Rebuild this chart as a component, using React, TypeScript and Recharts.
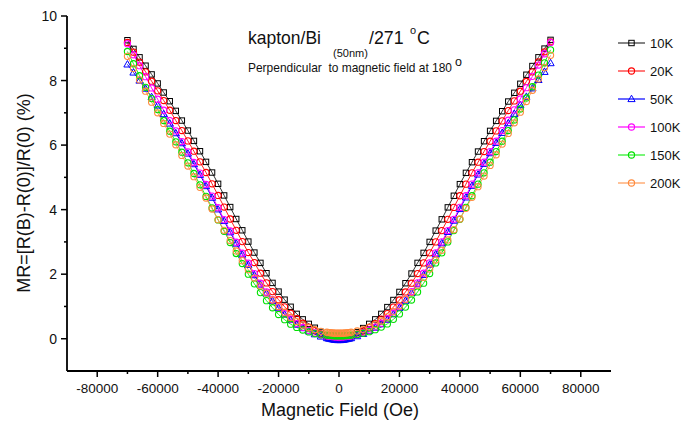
import { LineChart, Line, XAxis, YAxis } from "recharts";

// Magnetic field (Oe): 2000 Oe steps, with 500 Oe steps around zero
const FIELD = [
  -70000, -68000, -66000, -64000, -62000, -60000, -58000, -56000, -54000, -52000, -50000,
  -48000, -46000, -44000, -42000, -40000, -38000, -36000, -34000, -32000, -30000, -28000,
  -26000, -24000, -22000, -20000, -18000, -16000, -14000, -12000, -10000, -8000, -6000,
  -4000, -3500, -3000, -2500, -2000, -1500, -1000, -500, 0, 500, 1000, 1500, 2000, 2500, 3000, 3500, 4000,
  6000, 8000, 10000, 12000, 14000, 16000, 18000, 20000, 22000, 24000, 26000, 28000, 30000,
  32000, 34000, 36000, 38000, 40000, 42000, 44000, 46000, 48000, 50000, 52000, 54000, 56000,
  58000, 60000, 62000, 64000, 66000, 68000, 70000,
];

// MR (%) per temperature, same order as FIELD
const MR_10K = [
  9.25, 8.98, 8.72, 8.46, 8.19, 7.91, 7.63, 7.36, 7.06, 6.76, 6.45, 6.13, 5.81, 5.48, 5.15, 4.8,
  4.44, 4.08, 3.71, 3.36, 3.01, 2.67, 2.35, 2.03, 1.73, 1.46, 1.21, 0.99, 0.77, 0.6, 0.46, 0.34, 0.21,
  0.1, 0.08, 0.06, 0.04, 0.03, 0.02, 0.015, 0.01, 0.01, 0.01, 0.015, 0.02, 0.03, 0.04, 0.06, 0.08, 0.1,
  0.2, 0.33, 0.46, 0.6, 0.77, 0.98, 1.2, 1.45, 1.72, 2.02, 2.35, 2.66, 3.0, 3.35, 3.7, 4.07, 4.43,
  4.79, 5.14, 5.47, 5.8, 6.12, 6.44, 6.75, 7.05, 7.35, 7.62, 7.9, 8.18, 8.45, 8.72, 8.99, 9.26,
];
const MR_20K = [
  9.18, 8.88, 8.57, 8.27, 7.98, 7.68, 7.38, 7.08, 6.76, 6.45, 6.13, 5.81, 5.48, 5.15, 4.8, 4.44,
  4.08, 3.71, 3.36, 3.01, 2.67, 2.36, 2.03, 1.73, 1.46, 1.21, 0.99, 0.79, 0.62, 0.48, 0.36, 0.25, 0.15,
  0.07, 0.06, 0.05, 0.04, 0.035, 0.03, 0.025, 0.02, 0.02, 0.02, 0.025, 0.03, 0.035, 0.04, 0.05, 0.06, 0.07,
  0.14, 0.24, 0.35, 0.47, 0.61, 0.78, 0.98, 1.2, 1.45, 1.72, 2.02, 2.35, 2.66, 3.0, 3.35, 3.7, 4.07,
  4.43, 4.79, 5.14, 5.47, 5.8, 6.12, 6.44, 6.75, 7.07, 7.37, 7.67, 7.97, 8.27, 8.58, 8.89, 9.2,
];
const MR_50K = [
  8.5, 8.25, 8.0, 7.75, 7.49, 7.23, 6.96, 6.67, 6.37, 6.06, 5.74, 5.41, 5.08, 4.73, 4.37, 4.01,
  3.65, 3.3, 2.95, 2.61, 2.29, 1.97, 1.68, 1.41, 1.17, 0.95, 0.75, 0.58, 0.44, 0.33, 0.23, 0.14, 0.07,
  0.02, 0.01, 0.0, -0.01, -0.02, -0.03, -0.035, -0.04, -0.04, -0.04, -0.035, -0.03, -0.02, -0.01, 0.0, 0.01, 0.02,
  0.08, 0.15, 0.24, 0.34, 0.45, 0.59, 0.76, 0.96, 1.18, 1.42, 1.69, 1.98, 2.3, 2.62, 2.96, 3.31, 3.66,
  4.02, 4.38, 4.74, 5.09, 5.42, 5.75, 6.07, 6.38, 6.68, 6.97, 7.24, 7.5, 7.76, 8.02, 8.27, 8.54,
];
const MR_100K = [
  9.14, 8.8, 8.46, 8.12, 7.77, 7.42, 7.08, 6.76, 6.44, 6.11, 5.79, 5.46, 5.13, 4.78, 4.42, 4.06,
  3.69, 3.34, 2.99, 2.65, 2.34, 2.02, 1.72, 1.45, 1.21, 0.98, 0.78, 0.61, 0.47, 0.35, 0.26, 0.18, 0.12,
  0.09, 0.085, 0.08, 0.07, 0.065, 0.06, 0.055, 0.05, 0.05, 0.05, 0.055, 0.06, 0.065, 0.07, 0.08, 0.085, 0.09,
  0.13, 0.19, 0.27, 0.36, 0.48, 0.62, 0.79, 0.99, 1.22, 1.46, 1.73, 2.03, 2.35, 2.66, 3.0, 3.35, 3.7,
  4.07, 4.43, 4.79, 5.14, 5.47, 5.8, 6.12, 6.45, 6.77, 7.09, 7.43, 7.78, 8.13, 8.48, 8.83, 9.18,
];
const MR_150K = [
  8.9, 8.52, 8.15, 7.79, 7.44, 7.1, 6.76, 6.43, 6.1, 5.78, 5.45, 5.12, 4.77, 4.41, 4.05, 3.68,
  3.33, 2.98, 2.64, 2.33, 2.0, 1.7, 1.43, 1.18, 0.96, 0.75, 0.59, 0.45, 0.35, 0.27, 0.21, 0.16, 0.12,
  0.11, 0.105, 0.1, 0.1, 0.095, 0.09, 0.09, 0.09, 0.09, 0.09, 0.09, 0.09, 0.095, 0.1, 0.1, 0.105, 0.11,
  0.13, 0.17, 0.22, 0.28, 0.36, 0.46, 0.6, 0.77, 0.98, 1.2, 1.45, 1.72, 2.02, 2.35, 2.66, 3.0, 3.35,
  3.7, 4.07, 4.43, 4.79, 5.14, 5.47, 5.8, 6.12, 6.45, 6.78, 7.12, 7.46, 7.81, 8.17, 8.55, 8.95,
];
const MR_200K = [
  8.75, 8.37, 8.02, 7.67, 7.33, 7.0, 6.67, 6.34, 6.01, 5.68, 5.35, 5.02, 4.69, 4.36, 4.02, 3.69,
  3.36, 3.04, 2.72, 2.42, 2.14, 1.88, 1.64, 1.41, 1.2, 1.0, 0.82, 0.66, 0.53, 0.42, 0.34, 0.28, 0.23,
  0.2, 0.19, 0.19, 0.18, 0.18, 0.17, 0.17, 0.17, 0.17, 0.17, 0.17, 0.17, 0.18, 0.18, 0.19, 0.19, 0.2,
  0.24, 0.29, 0.36, 0.44, 0.55, 0.68, 0.84, 1.02, 1.22, 1.43, 1.66, 1.9, 2.16, 2.44, 2.74, 3.06, 3.38,
  3.71, 4.04, 4.38, 4.71, 5.04, 5.37, 5.7, 6.03, 6.36, 6.69, 7.02, 7.35, 7.7, 8.05, 8.4, 8.78,
];

const SERIES_NAMES = ["10K", "20K", "50K", "100K", "150K", "200K"];
const SERIES_VALUES = [MR_10K, MR_20K, MR_50K, MR_100K, MR_150K, MR_200K];

const X_TICKS = [
  -80000, -70000, -60000, -50000, -40000, -30000, -20000, -10000, 0,
  10000, 20000, 30000, 40000, 50000, 60000, 70000, 80000,
];
const Y_TICKS = [0, 1, 2, 3, 4, 5, 6, 7, 8, 9, 10];

const COLORS = ["#000000", "#ff0000", "#0000ff", "#ff00ff", "#00e000", "#ff8a3d"];
const LINE_COLORS = ["#333333", "#ff2020", "#0000ff", "#ff00ff", "#22ee22", "#ff9a55"];
const MARKERS = ["square", "circle", "triangle", "circle", "circle", "circle"];

const FONT = "'Liberation Sans', Arial, sans-serif";

const rows = FIELD.map((b, i) => {
  const row: Record<string, number> = { b };
  SERIES_NAMES.forEach((n, s) => {
    row[n] = SERIES_VALUES[s][i];
  });
  return row;
});

function Marker({ shape, color, x, y }: { shape: string; color: string; x: number; y: number }) {
  if (shape === "square")
    return <rect x={x - 2.7} y={y - 2.7} width={5.4} height={5.4} fill="none" stroke={color} strokeWidth={1} />;
  if (shape === "triangle")
    return (
      <polygon
        points={`${x},${y - 3.8} ${x + 3.6},${y + 2.6} ${x - 3.6},${y + 2.6}`}
        fill="none"
        stroke={color}
        strokeWidth={1}
      />
    );
  return <circle cx={x} cy={y} r={3.1} fill="none" stroke={color} strokeWidth={1.1} />;
}

function makeDot(shape: string, color: string) {
  return (props: any) => {
    const { cx, cy, index } = props;
    if (cx == null || cy == null) return <g key={`d-${index}`} />;
    return (
      <g key={`d-${index}`}>
        <Marker shape={shape} color={color} x={cx} y={cy} />
      </g>
    );
  };
}

const isMajorX = (v: number) => v % 20000 === 0;
const isMajorY = (v: number) => v % 2 === 0;

function BottomTick(props: any) {
  const { x, y, payload } = props;
  const major = isMajorX(payload.value);
  return (
    <g>
      <line x1={x} x2={x} y1={y} y2={y + (major ? 6 : 3)} stroke="#000" strokeWidth={1.5} />
      {major && (
        <text x={x} y={y + 22} textAnchor="middle" fontSize={13.5} fontFamily={FONT} fill="#111">
          {payload.value}
        </text>
      )}
    </g>
  );
}

function TopTick(props: any) {
  const { x, y, payload } = props;
  const major = isMajorX(payload.value);
  return <line x1={x} x2={x} y1={y} y2={y + (major ? 6 : 3)} stroke="#000" strokeWidth={1.5} />;
}

function LeftTick(props: any) {
  const { x, y, payload } = props;
  const major = isMajorY(payload.value);
  return (
    <g>
      <line x1={x} x2={x - (major ? 6 : 3)} y1={y} y2={y} stroke="#000" strokeWidth={1.5} />
      {major && (
        <text x={x - 10} y={y + 5} textAnchor="end" fontSize={14} fontFamily={FONT} fill="#111">
          {payload.value}
        </text>
      )}
    </g>
  );
}

function RightTick(props: any) {
  const { x, y, payload } = props;
  const major = isMajorY(payload.value);
  return <line x1={x} x2={x - (major ? 6 : 3)} y1={y} y2={y} stroke="#000" strokeWidth={1.5} />;
}

export default function App() {
  const axisLine = { stroke: "#000", strokeWidth: 1.8 };
  return (
    <div style={{ position: "absolute", left: 0, top: 0, width: 688, height: 423, background: "#fff" }}>
      <LineChart width={688} height={423} data={rows} margin={{ top: 16, right: 77, bottom: 0, left: 0 }}>
        <XAxis
          xAxisId="b"
          dataKey="b"
          type="number"
          orientation="bottom"
          domain={[-90000, 90000]}
          ticks={X_TICKS}
          interval={0}
          height={52}
          tickSize={0}
          tickMargin={0}
          tickLine={false}
          axisLine={axisLine}
          tick={<BottomTick />}
          allowDataOverflow
        />
        <XAxis
          xAxisId="t"
          dataKey="b"
          type="number"
          orientation="top"
          domain={[-90000, 90000]}
          ticks={X_TICKS}
          interval={0}
          height={0}
          tickSize={0}
          tickMargin={0}
          tickLine={false}
          axisLine={axisLine}
          tick={<TopTick />}
          allowDataOverflow
        />
        <YAxis
          yAxisId="l"
          type="number"
          orientation="left"
          domain={[-1, 10]}
          ticks={Y_TICKS}
          interval={0}
          width={67}
          tickSize={0}
          tickMargin={0}
          tickLine={false}
          axisLine={axisLine}
          tick={<LeftTick />}
          allowDataOverflow
        />
        <YAxis
          yAxisId="r"
          type="number"
          orientation="right"
          domain={[-1, 10]}
          ticks={Y_TICKS}
          interval={0}
          width={0}
          tickSize={0}
          tickMargin={0}
          tickLine={false}
          axisLine={axisLine}
          tick={<RightTick />}
          allowDataOverflow
        />
        {SERIES_NAMES.map((n, s) => (
          <Line
            key={n}
            xAxisId="b"
            yAxisId="l"
            dataKey={n}
            type="linear"
            stroke={LINE_COLORS[s]}
            strokeWidth={1}
            dot={makeDot(MARKERS[s], COLORS[s])}
            activeDot={false}
            isAnimationActive={false}
          />
        ))}
      </LineChart>

      <svg
        width={688}
        height={423}
        style={{ position: "absolute", left: 0, top: 0, pointerEvents: "none" }}
        fontFamily={FONT}
      >
        <text x={248} y={44} fontSize={17.8} fill="#111" textLength={73} lengthAdjust="spacingAndGlyphs">
          kapton/Bi
        </text>
        <text x={333} y={57} fontSize={11} fill="#111">(50nm)</text>
        <text x={369} y={44} fontSize={17.8} fill="#111">/271</text>
        <text x={410} y={34} fontSize={11} fill="#111">o</text>
        <text x={417} y={44} fontSize={17.8} fill="#111">C</text>
        <text
          x={248}
          y={72}
          fontSize={12.2}
          fill="#111"
          style={{ whiteSpace: "pre" }}
          textLength={204}
          lengthAdjust="spacingAndGlyphs"
        >
          {"Perpendicular  to magnetic field at 180"}
        </text>
        <text x={455} y={66} fontSize={12.5} fill="#111">o</text>

        <text
          transform="translate(30,193) rotate(-90)"
          textAnchor="middle"
          fontSize={18}
          fill="#111"
        >
          MR=[R(B)-R(0)]/R(0) (%)
        </text>
        <text x={340} y={416} textAnchor="middle" fontSize={18} fill="#111">
          Magnetic Field (Oe)
        </text>

        {SERIES_NAMES.map((n, s) => {
          const y = 43 + s * 28;
          return (
            <g key={n}>
              <line x1={618} x2={645} y1={y} y2={y} stroke={LINE_COLORS[s]} strokeWidth={1.2} />
              <Marker shape={MARKERS[s]} color={COLORS[s]} x={631.5} y={y} />
              <text x={650} y={y + 5} fontSize={13} fill="#111">{n}</text>
            </g>
          );
        })}
      </svg>
    </div>
  );
}
